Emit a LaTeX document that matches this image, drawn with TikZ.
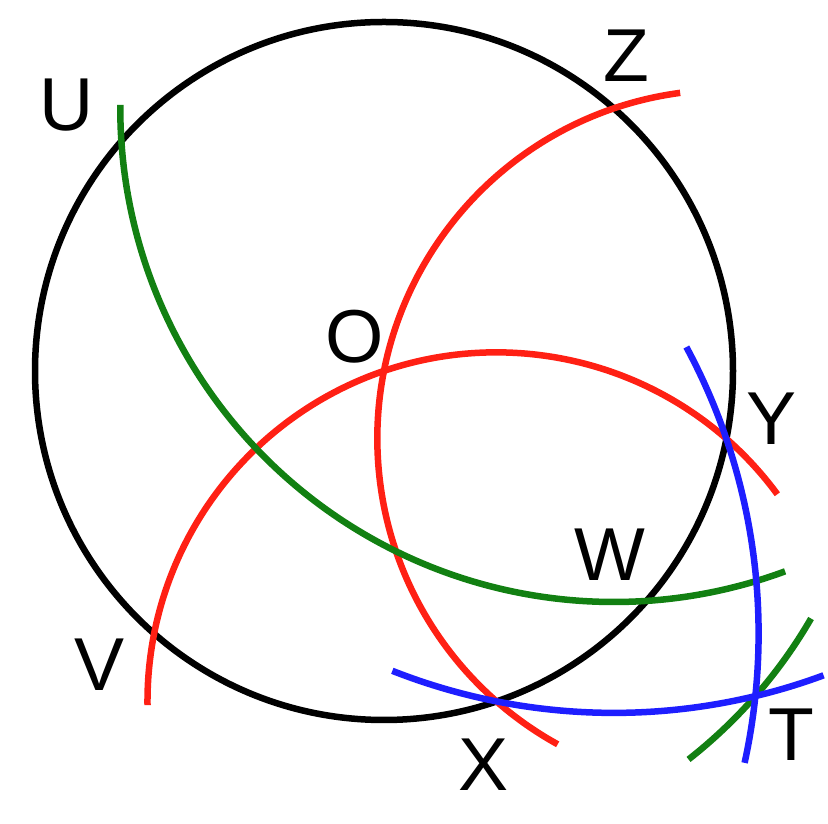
\documentclass[tikz,border=0pt]{standalone}
\usepackage{fontspec}
\setmainfont{Liberation Sans}
\usetikzlibrary{calc}
\definecolor{arcred}{RGB}{255,32,20}
\definecolor{arcgreen}{RGB}{18,128,18}
\definecolor{arcblue}{RGB}{30,30,255}
\tikzset{
  curve/.style={line width=6.5pt},
  lbl/.style={inner sep=0pt, font=\fontsize{75}{80}\selectfont}
}
\begin{document}
\begin{tikzpicture}[x=1pt,y=1pt]
\useasboundingbox (0,0) rectangle (828,824);
\def\r{349pt}
\def\rtwo{493.6pt}
\def\rthree{604.5pt}
\coordinate (O) at (384,453);
\coordinate (Y) at ($(O)+(-11.2:\r)$);
\coordinate (X) at ($(O)+(-71.2:\r)$);
\coordinate (V) at ($(O)+(-131.2:\r)$);
\coordinate (Z) at ($(O)+(48.8:\r)$);
% main circle
\draw[curve, black] (O) circle[radius=\r];
% red arcs
\draw[curve, arcred] ($(Y)+(97.6:\r)$) arc[start angle=97.6, end angle=241.1, radius=\r];
\draw[curve, arcred] ($(X)+(36.4:\r)$) arc[start angle=36.4, end angle=180.6, radius=\r];
% green arcs
\draw[curve, arcgreen] ($(Z)+(179.6:\rtwo)$) arc[start angle=179.6, end angle=290.3, radius=\rtwo];
\draw[curve, arcgreen] ($(O)+(-51.9:\rtwo)$) arc[start angle=-51.9, end angle=-30.1, radius=\rtwo];
% blue arcs
\draw[curve, arcblue] ($(V)+(-12.35:\rthree)$) arc[start angle=-12.35, end angle=28.3, radius=\rthree];
\draw[curve, arcblue] ($(Z)+(248.5:\rthree)$) arc[start angle=248.5, end angle=290.3, radius=\rthree];
% labels
\node[lbl] (lU) at (67,719) {U};
\node[lbl] (lZ) at (626,768) {Z};
\node[lbl] (lO) at (355,487) {O};
\node[lbl] (lY) at (772,405) {Y};
\node[lbl] (lW) at (610,269) {W};
\node[lbl] (lV) at (100,159) {V};
\node[lbl] (lX) at (484,59) {X};
\node[lbl] (lT) at (791,89) {T};
\end{tikzpicture}
\end{document}
